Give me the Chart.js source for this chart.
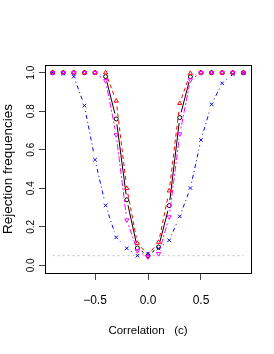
<!DOCTYPE html>
<html>
<head>
<meta charset="utf-8">
<script src="https://cdn.jsdelivr.net/npm/chart.js@4"></script>
<style>
html,body{margin:0;padding:0;background:#fff;}
#c{display:block;}
</style>
</head>
<body>
<canvas id="c" width="274" height="354"></canvas>
<script>
// ---- data ----
const correlations = [-0.9,-0.8,-0.7,-0.6,-0.5,-0.4,-0.3,-0.2,-0.1,0.0,0.1,0.2,0.3,0.4,0.5,0.6,0.7,0.8,0.9];
const seriesCircle   = [1,1,1,1,1,0.98,0.76,0.34,0.09,0.05,0.095,0.31,0.767,0.979,1,1,1,1,1];
const seriesTriangle = [1,1,1,1,1,1.0,0.853,0.40,0.115,0.055,0.12,0.387,0.841,0.997,1,1,1,1,1];
const seriesInvTri   = [1,1,1,1,1,0.958,0.677,0.235,0.075,0.043,0.06,0.251,0.682,0.962,1,1,1,1,1];
const seriesCross    = [1,0.995,0.98,0.829,0.548,0.311,0.145,0.088,0.05,0.061,0.087,0.13,0.254,0.401,0.651,0.836,0.945,0.992,1];
const refLevel = 0.05;
const refRange = [-0.9, 0.9];
const xTickValues = [-0.5, 0, 0.5];
const yTickValues = [0, 0.2, 0.4, 0.6, 0.8, 1.0];
const xLabel = 'Correlation   (c)';
const yLabel = 'Rejection frequencies';

const pts = arr => correlations.map((x,i)=>({x:x, y:arr[i]}));
const fmt = v => { const s = Number(v).toFixed(1); return s.startsWith('-') ? '\u2212' + s.slice(1) : s; };
const FONT = "'Liberation Sans', Arial, Helvetica, sans-serif";

// R type="b": segments between points leave a gap around each point
const gapLinePlugin = {
  id: 'gapLine',
  beforeDatasetDraw(chart, args){
    const ds = chart.data.datasets[args.index];
    if (!ds.gapLine) return;
    const pts = args.meta.data;
    const ctx = chart.ctx, a = chart.chartArea;
    const g = ds.gapLine;
    ctx.save();
    ctx.beginPath(); ctx.rect(a.left, a.top, a.right-a.left, a.bottom-a.top); ctx.clip();
    ctx.strokeStyle = ds.lineColor;
    ctx.lineWidth = 1;
    ctx.setLineDash(ds.lineDash || []);
    for (let i = 0; i < pts.length-1; i++){
      const p0 = pts[i], p1 = pts[i+1];
      const dx = p1.x-p0.x, dy = p1.y-p0.y, d = Math.hypot(dx,dy);
      if (d <= 2*g) continue;
      const ux = dx/d, uy = dy/d;
      ctx.beginPath();
      ctx.moveTo(p0.x+ux*g, p0.y+uy*g);
      ctx.lineTo(p1.x-ux*g, p1.y-uy*g);
      ctx.stroke();
    }
    ctx.restore();
  }
};

const boxPlugin = {
  id: 'box',
  afterDraw(chart){
    const a = chart.chartArea, ctx = chart.ctx;
    ctx.save();
    ctx.strokeStyle = '#000';
    ctx.lineWidth = 1;
    ctx.strokeRect(Math.round(a.left)+0.5, Math.round(a.top)+0.5, Math.round(a.right-a.left), Math.round(a.bottom-a.top));
    ctx.restore();
  }
};

new Chart(document.getElementById('c'), {
  type: 'scatter',
  data: {
    datasets: [
      { label:'inv', data: pts(seriesInvTri), showLine:false, gapLine:5.5, lineColor:'#ff00ff', lineDash:[2,2,6,2],
        backgroundColor:'transparent', pointStyle:'triangle', pointRotation:180, pointRadius:2.4, pointBorderWidth:1, pointBorderColor:'#ff00ff' },
      { label:'x', data: pts(seriesCross), showLine:false, gapLine:5.5, lineColor:'#0000ff', lineDash:[1,3,4,3],
        backgroundColor:'transparent', pointStyle:'crossRot', pointRadius:2.5, pointBorderWidth:1, pointBorderColor:'#0000ff' },
      { label:'tri', data: pts(seriesTriangle), showLine:false, gapLine:5.5, lineColor:'#ff0000', lineDash:[4,3],
        backgroundColor:'transparent', pointStyle:'triangle', pointRadius:2.4, pointBorderWidth:1, pointBorderColor:'#ff0000' },
      { label:'o', data: pts(seriesCircle), showLine:false, gapLine:5.5, lineColor:'#000000', lineDash:[],
        backgroundColor:'transparent', pointStyle:'circle', pointRadius:2, pointBorderWidth:1, pointBorderColor:'#000000' },
      { label:'ref', data: refRange.map(x=>({x:x, y:refLevel})), showLine:true, borderColor:'#bebebe',
        borderWidth:1, borderDash:[2,3], pointRadius:0 }
    ]
  },
  options: {
    responsive:false, animation:false, devicePixelRatio:1,
    layout:{ padding:{ left:0, right:23, top:65, bottom:0 } },
    plugins:{ legend:{display:false}, tooltip:{enabled:false} },
    scales:{
      x:{
        type:'linear', min:-0.972, max:0.972,
        afterBuildTicks: s => { s.ticks = xTickValues.map(v=>({value:v})); },
        afterFit: s => { s.height = 81; },
        ticks:{ font:{family:FONT, size:12}, color:'#000', padding:13, maxRotation:0, callback: v => fmt(v) },
        grid:{ display:true, drawOnChartArea:false, drawTicks:true, tickLength:7, color:'#444', lineWidth:1 },
        border:{ display:false },
        title:{ display:true, text:xLabel, color:'#000', font:{family:FONT, size:11.5}, padding:{top:0, bottom:16} }
      },
      y:{
        type:'linear', min:-0.04, max:1.04,
        afterBuildTicks: s => { s.ticks = yTickValues.map(v=>({value:v})); },
        afterFit: s => { s.width = 45; },
        ticks:{ font:{family:FONT, size:10}, color:'#000', minRotation:90, maxRotation:90, crossAlign:'center', padding:0.5, callback: v => fmt(v) },
        grid:{ display:true, drawOnChartArea:false, drawTicks:true, tickLength:6, color:'#444', lineWidth:1 },
        border:{ display:false },
        title:{ display:true, text:yLabel, color:'#000', font:{family:FONT, size:13.5}, padding:{top:0, bottom:0} }
      }
    }
  },
  plugins:[gapLinePlugin, boxPlugin]
});
</script>
</body>
</html>
